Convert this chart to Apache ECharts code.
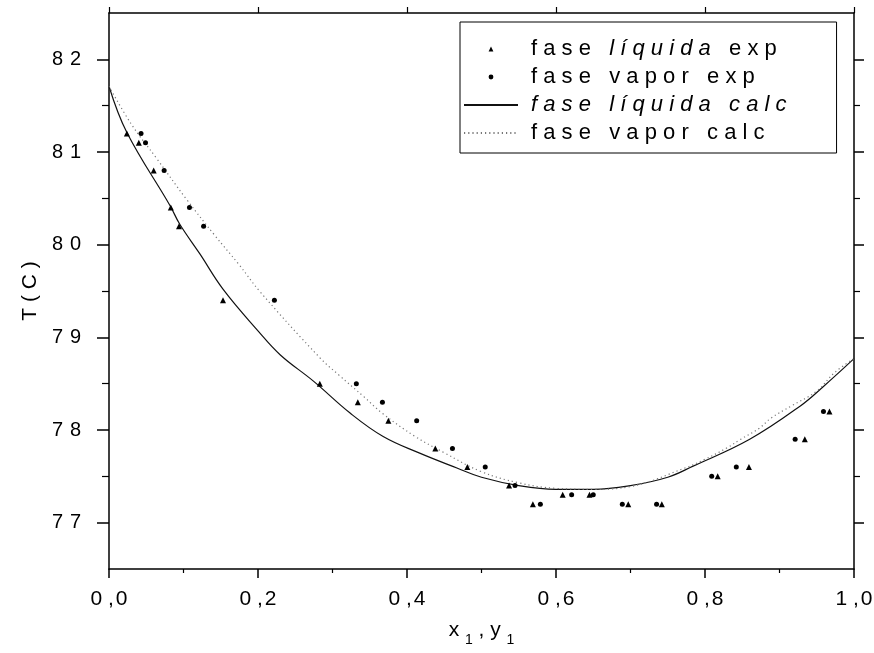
<!DOCTYPE html>
<html><head><meta charset="utf-8">
<script src="https://cdn.jsdelivr.net/npm/echarts@6/dist/echarts.min.js"></script>
<style>html,body{margin:0;padding:0;background:#fff}#c{width:874px;height:653px}</style>
</head><body><div id="c"></div>
<script>
// experimental liquid phase (x1, T)
const liqExpX = [0.024,0.040,0.060,0.083,0.094,0.153,0.283,0.334,0.375,0.438,0.481,0.537,0.569,0.609,0.645,0.697,0.742,0.817,0.859,0.934,0.967];
const liqExpT = [81.2,81.1,80.8,80.4,80.2,79.4,78.5,78.3,78.1,77.8,77.6,77.4,77.2,77.3,77.3,77.2,77.2,77.5,77.6,77.9,78.2];
// experimental vapor phase (y1, T)
const vapExpX = [0.043,0.049,0.074,0.108,0.127,0.222,0.332,0.367,0.413,0.461,0.505,0.545,0.579,0.621,0.650,0.689,0.735,0.809,0.842,0.921,0.959];
const vapExpT = [81.2,81.1,80.8,80.4,80.2,79.4,78.5,78.3,78.1,77.8,77.6,77.4,77.2,77.3,77.3,77.2,77.2,77.5,77.6,77.9,78.2];
// calculated liquid curve
const liqCalcX = [0,0.024,0.082,0.095,0.122,0.153,0.200,0.230,0.274,0.324,0.368,0.417,0.467,0.500,0.550,0.600,0.650,0.700,0.750,0.784,0.860,0.928,0.959,1.0];
const liqCalcT = [81.71,81.21,80.42,80.22,79.90,79.52,79.07,78.81,78.53,78.18,77.93,77.75,77.59,77.49,77.40,77.36,77.36,77.40,77.49,77.61,77.90,78.26,78.47,78.77];
// calculated vapor curve
const vapCalcX = [0,0.030,0.064,0.104,0.142,0.174,0.203,0.283,0.309,0.342,0.367,0.411,0.451,0.500,0.550,0.600,0.650,0.700,0.773,0.799,0.830,0.848,0.873,0.889,0.916,0.950,0.974,1.0];
const vapCalcT = [81.71,81.30,80.93,80.49,80.10,79.79,79.49,78.78,78.59,78.36,78.18,77.93,77.75,77.55,77.43,77.37,77.36,77.39,77.59,77.68,77.81,77.90,78.02,78.13,78.26,78.42,78.62,78.77];
// axis ticks
const yMajor = [77,78,79,80,81,82];
const yMinor = [77.5,78.5,79.5,80.5,81.5];
const seriesNames = ['fase líquida exp','fase vapor exp','fase líquida calc','fase vapor calc'];

const zip = (a, b) => a.map((v, i) => [v, b[i]]);
const FONT = "'Liberation Sans', Arial, sans-serif";
const sp = w => w.split('').join(' ');
const spaced = s => s.split(' ').map(sp).join('   ');

const legendText = {
  'fase líquida exp': sp('fase') + '   {i|' + sp('líquida') + '}   ' + sp('exp'),
  'fase vapor exp': spaced('fase vapor exp'),
  'fase líquida calc': '{i|' + spaced('fase líquida calc') + '}',
  'fase vapor calc': spaced('fase vapor calc')
};

const chart = echarts.init(document.getElementById('c'), null, {renderer: 'canvas'});
const axisLine = {show: true, lineStyle: {color: '#000', width: 1.5}};
const common = {min: 76.5, max: 82.5, splitLine: {show: false}};
const hidden = {color: 'transparent', borderWidth: 0};
chart.setOption({
  backgroundColor: '#fff',
  animation: false,
  grid: {left: 109, right: 20, top: 13, bottom: 84, containLabel: false, outerBoundsMode: 'none'},
  legend: {
    orient: 'vertical', left: 460, top: 22,
    padding: [15, 50, 8, 3],
    borderColor: '#000', borderWidth: 1,
    itemWidth: 54, itemHeight: 6, itemGap: 4,
    data: [
      {name: seriesNames[0]},
      {name: seriesNames[1]},
      {name: seriesNames[2], itemStyle: hidden},
      {name: seriesNames[3], itemStyle: hidden}
    ],
    formatter: n => legendText[n],
    textStyle: {
      fontFamily: FONT, fontSize: 22, color: '#000', lineHeight: 24, padding: [0, 0, 0, 8],
      rich: {i: {fontFamily: FONT, fontSize: 22, fontStyle: 'italic', color: '#000', lineHeight: 24}}
    }
  },
  xAxis: [{
    type: 'value', position: 'bottom', min: 0, max: 1, interval: 0.2,
    axisLine: axisLine, splitLine: {show: false},
    axisTick: {length: 9, lineStyle: {color: '#000', width: 1.5}},
    minorTick: {show: true, splitNumber: 2, length: 4, lineStyle: {color: '#000', width: 1.2}},
    axisLabel: {margin: 20, fontFamily: FONT, fontSize: 21, color: '#000',
      formatter: v => v.toFixed(1).replace('.', ' ,\u200A')},
    name: '{n|x }{s|1}{n| , y }{s|1}', nameLocation: 'middle', nameGap: 54,
    nameTextStyle: {rich: {
      n: {fontFamily: FONT, fontSize: 21, color: '#000', lineHeight: 24, verticalAlign: 'bottom', padding: [0, 0, 6, 0]},
      s: {fontFamily: FONT, fontSize: 14, color: '#000', lineHeight: 16, verticalAlign: 'bottom'}
    }}
  }, {
    type: 'value', position: 'top', min: 0, max: 1, interval: 0.2,
    axisLine: axisLine, splitLine: {show: false}, axisLabel: {show: false},
    axisTick: {length: 6, lineStyle: {color: '#000', width: 1.2}}
  }],
  yAxis: [{
    type: 'value', position: 'left', ...common,
    axisLine: axisLine,
    axisTick: {customValues: yMajor, length: 12, lineStyle: {color: '#000', width: 1.5}},
    axisLabel: {customValues: yMajor, margin: 28, fontFamily: FONT, fontSize: 20, color: '#000',
      formatter: v => String(v).split('').join('\u2004')},
    name: 'T ( C )', nameLocation: 'middle', nameGap: 66,
    nameTextStyle: {fontFamily: FONT, fontSize: 21, color: '#000'}
  }, {
    type: 'value', position: 'left', ...common,
    axisLine: {show: false}, axisLabel: {show: false},
    axisTick: {customValues: yMinor, length: 7, lineStyle: {color: '#000', width: 1.2}}
  }, {
    type: 'value', position: 'right', ...common,
    axisLine: axisLine, axisLabel: {show: false},
    axisTick: {customValues: yMajor, length: 10, lineStyle: {color: '#000', width: 1.5}}
  }, {
    type: 'value', position: 'right', ...common,
    axisLine: {show: false}, axisLabel: {show: false},
    axisTick: {customValues: yMinor, length: 6, lineStyle: {color: '#000', width: 1.2}}
  }],
  series: [{
    name: seriesNames[0], type: 'line', symbol: 'triangle', symbolSize: 6,
    showSymbol: true, showAllSymbol: true, lineStyle: {opacity: 0, width: 0},
    itemStyle: {color: '#000'}, data: zip(liqExpX, liqExpT)
  }, {
    name: seriesNames[1], type: 'line', symbol: 'circle', symbolSize: 5,
    showSymbol: true, showAllSymbol: true, lineStyle: {opacity: 0, width: 0},
    itemStyle: {color: '#000'}, data: zip(vapExpX, vapExpT)
  }, {
    name: seriesNames[2], type: 'line', symbol: 'none', smooth: 0.4,
    lineStyle: {color: '#111', width: 1.2}, itemStyle: {color: '#111'},
    data: zip(liqCalcX, liqCalcT)
  }, {
    name: seriesNames[3], type: 'line', symbol: 'none', smooth: 0.4,
    lineStyle: {color: '#777', width: 1.2, type: [1.2, 3]}, itemStyle: {color: '#777'},
    data: zip(vapCalcX, vapCalcT)
  }]
});
</script></body></html>
